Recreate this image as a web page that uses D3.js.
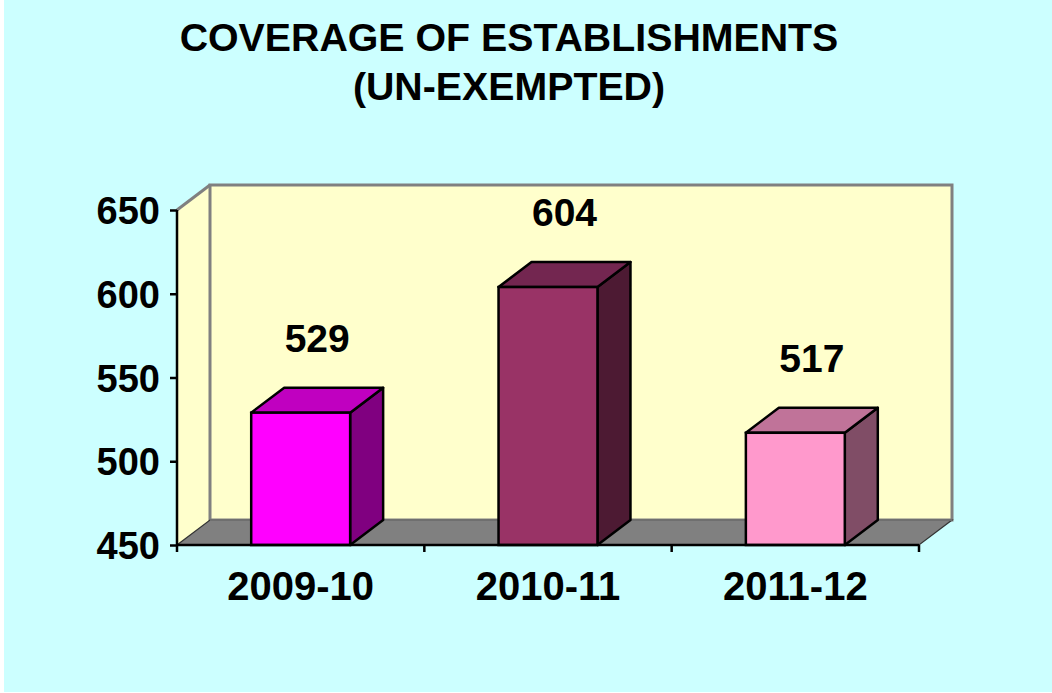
<!DOCTYPE html>
<html>
<head>
<meta charset="utf-8">
<script src="https://cdn.jsdelivr.net/npm/d3@7"></script>
<style>
  html, body { margin: 0; padding: 0; background: #ffffff; }
  svg { display: block; }
  text { font-family: "Liberation Sans", Arial, Helvetica, sans-serif; font-weight: bold; }
</style>
</head>
<body>
<svg id="chart" width="1052" height="693"></svg>
<script>
const titleLines = ["COVERAGE OF ESTABLISHMENTS", "(UN-EXEMPTED)"];
const categories = ["2009-10", "2010-11", "2011-12"];
const values = [529, 604, 517];
const yTicks = [450, 500, 550, 600, 650];
const frontColors = ["#FF00FF", "#993366", "#FF99CC"];
const topColors = ["#C000C0", "#732650", "#C07399"];
const sideColors = ["#800080", "#4D1A33", "#804D66"];

const W = 1052, H = 693;
const svg = d3.select("#chart");

// background
svg.append("rect").attr("x", 4).attr("y", 0).attr("width", W - 4).attr("height", H - 1).attr("fill", "#CCFFFF");

const pLeft = 177, pRight = 919, pBottom = 545, pTop = 210;
const dx = 33, dy = 25;

const y = d3.scaleLinear().domain([450, 650]).range([pBottom, pTop]);
const x = d3.scaleBand().domain(categories).range([pLeft, pRight]).padding(0);
const barW = x.bandwidth() * 0.4;
const pts = a => a.map(p => p.join(",")).join(" ");

// side (left) wall
svg.append("polygon")
  .attr("points", pts([[pLeft, y(650)], [pLeft + dx, y(650) - dy], [pLeft + dx, pBottom - dy], [pLeft, pBottom]]))
  .attr("fill", "#FFFFCC");
// back wall
svg.append("rect")
  .attr("x", pLeft + dx).attr("y", y(650) - dy)
  .attr("width", pRight - pLeft).attr("height", pBottom - y(650))
  .attr("fill", "#FFFFCC").attr("stroke", "#808080").attr("stroke-width", 3);
svg.append("line")
  .attr("x1", pLeft).attr("y1", y(650)).attr("x2", pLeft + dx).attr("y2", y(650) - dy)
  .attr("stroke", "#808080").attr("stroke-width", 3);
// floor
svg.append("polygon")
  .attr("points", pts([[pLeft, pBottom], [pRight, pBottom], [pRight + dx, pBottom - dy], [pLeft + dx, pBottom - dy]]))
  .attr("fill", "#808080").attr("stroke", "#333333").attr("stroke-width", 1.2);
svg.append("line")
  .attr("x1", pLeft + dx).attr("y1", pBottom - dy).attr("x2", pRight + dx).attr("y2", pBottom - dy)
  .attr("stroke", "#6f6f6f").attr("stroke-width", 2);

// bars
const bars = svg.append("g").selectAll("g").data(categories).join("g");
bars.each(function (c, i) {
  const g = d3.select(this);
  const x0 = x(c) + (x.bandwidth() - barW) / 2, x1 = x0 + barW;
  const yt = y(values[i]), yb = y(450);
  g.append("polygon").attr("points", pts([[x1, yb], [x1 + dx, yb - dy], [x1 + dx, yt - dy], [x1, yt]]))
    .attr("fill", sideColors[i]).attr("stroke", "#000").attr("stroke-width", 2.5).attr("stroke-linejoin", "round");
  g.append("polygon").attr("points", pts([[x0, yt], [x1, yt], [x1 + dx, yt - dy], [x0 + dx, yt - dy]]))
    .attr("fill", topColors[i]).attr("stroke", "#000").attr("stroke-width", 2.5).attr("stroke-linejoin", "round");
  g.append("rect").attr("x", x0).attr("y", yt).attr("width", barW).attr("height", yb - yt)
    .attr("fill", frontColors[i]).attr("stroke", "#000").attr("stroke-width", 2.5);
  g.append("text")
    .attr("x", (x0 + x1) / 2 + dx / 2).attr("y", yt - dy - 36)
    .attr("text-anchor", "middle").attr("font-size", 39).attr("fill", "#000")
    .text(values[i]);
});

// y axis
const yAxis = svg.append("g").attr("transform", `translate(${pLeft},0)`)
  .call(d3.axisLeft(y).tickValues(yTicks).tickSize(7).tickPadding(10).tickFormat(d3.format("d")));
yAxis.select(".domain").attr("stroke", "#000").attr("stroke-width", 2.5).attr("d", `M0,${pBottom}V${pTop}`);
yAxis.selectAll(".tick line").attr("stroke", "#000").attr("stroke-width", 2.5);
yAxis.selectAll(".tick text").attr("font-size", 38).attr("font-family", null).attr("fill", "#000").attr("dy", "0.36em");

// x axis
const xAxis = svg.append("g").attr("transform", `translate(0,${pBottom})`)
  .call(d3.axisBottom(x).tickSize(0).tickPadding(0));
xAxis.select(".domain").attr("stroke", "#000").attr("stroke-width", 2.5).attr("d", `M${pLeft},0H${pRight}`);
xAxis.selectAll(".tick text").attr("font-size", 40).attr("font-family", null).attr("fill", "#000")
  .attr("y", 55).attr("dy", null);
const bounds = categories.map(c => x(c)).concat([pRight]);
xAxis.selectAll("line.bound").data(bounds).join("line").attr("class", "bound")
  .attr("x1", d => d).attr("x2", d => d).attr("y1", 0).attr("y2", 7)
  .attr("stroke", "#000").attr("stroke-width", 2.5);

// title
svg.append("text").attr("x", 509).attr("text-anchor", "middle").attr("font-size", 39.3).attr("fill", "#000")
  .selectAll("tspan").data(titleLines).join("tspan")
  .attr("x", 509).attr("y", (d, i) => 51 + i * 49.3).text(d => d);
</script>
</body>
</html>
